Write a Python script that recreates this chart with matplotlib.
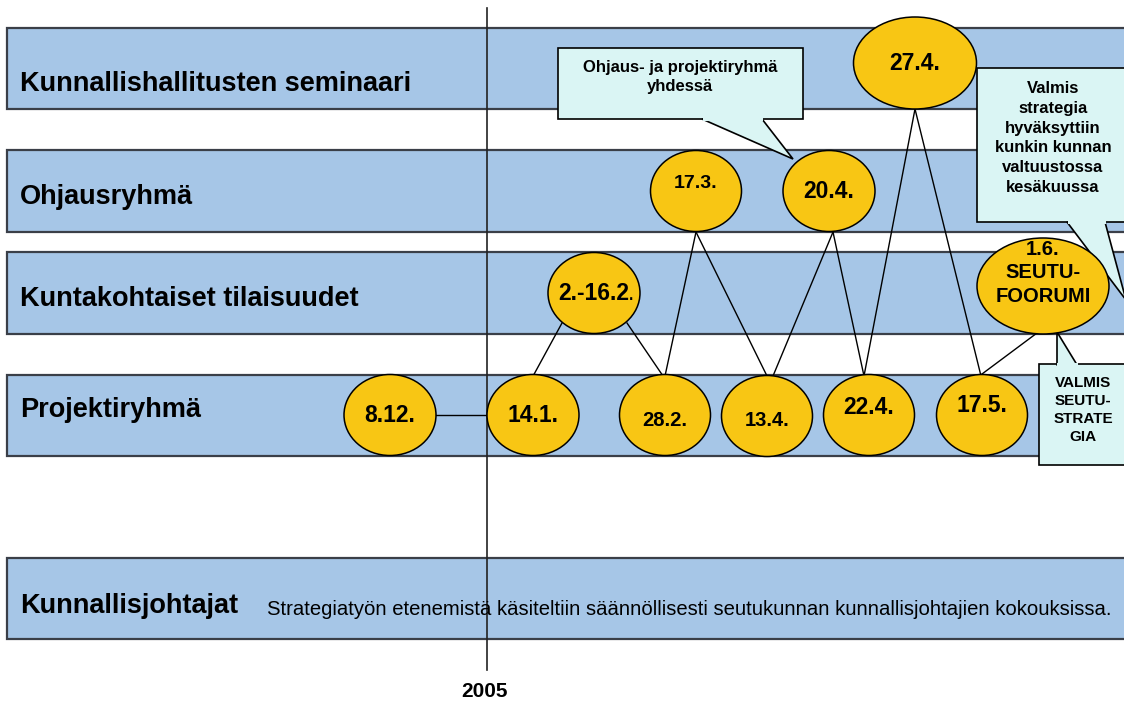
import matplotlib.pyplot as plt
from matplotlib.patches import Rectangle, Ellipse, Polygon

plt.rcParams['font.family'] = ['Liberation Sans', 'DejaVu Sans']

# rows of the timeline (label, top, bottom, label baseline) in pixel units
row_labels = ["Kunnallishallitusten seminaari", "Ohjausryhmä",
              "Kuntakohtaiset tilaisuudet", "Projektiryhmä", "Kunnallisjohtajat"]
row_top = [28, 150, 252, 375, 558]
row_bot = [109, 232, 334, 456, 639]
row_base = [91, 204, 306, 417, 613]

# meetings: label, x centre, y centre, width, height, font size, text dy
ev_labels = ["8.12.", "14.1.", "28.2.", "13.4.", "22.4.", "17.5.",
             "17.3.", "20.4.", "2.-16.2", "27.4.", "1.6.\nSEUTU-\nFOORUMI"]
ev_x = [390, 533, 665, 767, 869, 982, 696, 829, 594, 915, 1043]
ev_y = [415, 415, 415, 416, 415, 415, 191, 191, 293, 63, 286]
ev_w = [92, 92, 91, 91, 91, 91, 91, 92, 92, 123, 132]
ev_h = [81, 81, 81, 81, 81, 81, 81, 81, 81, 92, 96]
ev_fs = [16.5, 16.5, 14.5, 14.5, 16.5, 16.5, 14, 16.5, 16.5, 16.5, 14.5]
ev_dy = [0, 0, 5, 4, -8, -9, -8, 0, 0, 0, -13]

# links between meetings (attachment points)
links = [((436, 415), (487, 415)),
         ((532, 378), (562, 323)),
         ((627, 323), (663, 376)),
         ((696, 232), (665, 376)),
         ((696, 232), (767, 376)),
         ((833, 232), (773, 376)),
         ((833, 232), (864, 376)),
         ((915, 109), (864, 376)),
         ((915, 109), (981, 376)),
         ((1037, 333), (982, 374))]

body_text = ("Strategiatyön etenemistä käsiteltiin säännöllisesti "
             "seutukunnan kunnallisjohtajien kokouksissa.")

band_col = "#A6C6E7"
edge_col = "#3A3F48"
yellow = "#F8C614"
note_col = "#DAF5F4"

fig = plt.figure(figsize=(11.24, 7.02), dpi=100)
ax = fig.add_axes([0, 0, 1, 1])
ax.set_xlim(0, 1124)
ax.set_ylim(702, 0)
ax.axis("off")

for lab, t, b, base in zip(row_labels, row_top, row_bot, row_base):
    ax.add_patch(Rectangle((7, t), 1140, b - t, facecolor=band_col,
                           edgecolor=edge_col, lw=1.6, zorder=1))
    ax.text(20, base, lab, fontsize=19.5, fontweight="bold", va="baseline",
            ha="left", zorder=6)

ax.text(267, 615, body_text, fontsize=14.6, va="baseline", ha="left", zorder=6)

# year line
ax.plot([487, 487], [8, 670], color="#222222", lw=1.2, zorder=2)
ax.text(485, 697, "2005", fontsize=15, fontweight="bold", ha="center",
        va="baseline")

for p, q in links:
    ax.plot([p[0], q[0]], [p[1], q[1]], color="black", lw=1, zorder=3)

# callouts
def callout(box, tail, zo=4):
    x0, y0, x1, y1 = box
    ax.add_patch(Rectangle((x0, y0), x1 - x0, y1 - y0, facecolor=note_col,
                           edgecolor="black", lw=1.2, zorder=zo))
    ax.add_patch(Polygon(tail, closed=True, facecolor=note_col,
                         edgecolor="black", lw=1.2, zorder=zo))
    # cover the join of tail and box
    a, b = tail[0], tail[-1]
    ax.plot([a[0] + 1.5, b[0] - 1.5], [a[1], b[1]], color=note_col, lw=2.2,
            zorder=zo + 0.1)

callout((558, 48, 803, 119), [(702, 119), (793, 159), (762, 119)])
ax.text(680, 77, "Ohjaus- ja projektiryhmä\nyhdessä", fontsize=12,
        fontweight="bold", ha="center", va="center", linespacing=1.32,
        zorder=6)

callout((977, 68, 1140, 222), [(1067, 222), (1126, 300), (1105, 222)])
ax.text(1053, 138, "Valmis\nstrategia\nhyväksyttiin\nkunkin kunnan\n"
        "valtuustossa\nkesäkuussa", fontsize=12, fontweight="bold",
        ha="center", va="center", linespacing=1.4, zorder=6)

ax.add_patch(Rectangle((1039, 364), 110, 101, facecolor=note_col,
                       edgecolor="black", lw=1.2, zorder=4))
ax.add_patch(Polygon([(1057, 364.8), (1057, 332), (1077, 364.8)], closed=True,
                     facecolor=note_col, edgecolor="black", lw=1.2, zorder=4))
ax.plot([1058, 1076], [364, 364], color=note_col, lw=2.2, zorder=4.1)
ax.text(1083, 410, "VALMIS\nSEUTU-\nSTRATE\nGIA", fontsize=11,
        fontweight="bold", ha="center", va="center", linespacing=1.37,
        zorder=6)

for lab, x, y, w, h, fs, dy in zip(ev_labels, ev_x, ev_y, ev_w, ev_h,
                                   ev_fs, ev_dy):
    ax.add_patch(Ellipse((x, y), w, h, facecolor=yellow, edgecolor="black",
                         lw=1.1, zorder=5))
    ls = 1.3 if "\n" in lab else 1.0
    ax.text(x, y + dy, lab, fontsize=fs, fontweight="bold", ha="center",
            va="center", linespacing=ls, zorder=6)

# the trailing dot of 2.-16.2. is not bold in the original
ax.text(628, 294, ".", fontsize=16.5, ha="left", va="center", zorder=6)

fig.savefig("out.png", dpi=100)
